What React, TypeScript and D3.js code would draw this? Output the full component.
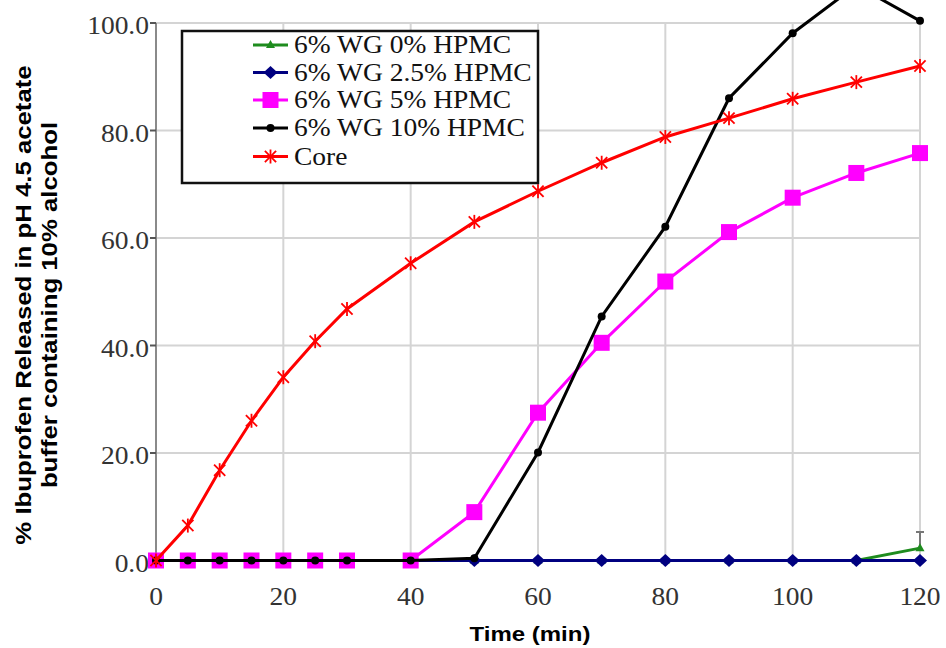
import { scaleLinear, line } from 'd3';

const width = 946;
const height = 648;

const times = [0, 5, 10, 15, 20, 25, 30, 40, 50, 60, 70, 80, 90, 100, 110, 120];
const wg0 = [0, 0, 0, 0, 0, 0, 0, 0, 0, 0, 0, 0, 0, 0, 0, 2.3];
const wg0Err = [0, 0, 0, 0, 0, 0, 0, 0, 0, 0, 0, 0, 0, 0, 0, 3.0];
const wg25 = [0, 0, 0, 0, 0, 0, 0, 0, 0, 0, 0, 0, 0, 0, 0, 0];
const wg5 = [0, 0, 0, 0, 0, 0, 0, 0, 9.0, 27.5, 40.5, 51.9, 61.1, 67.5, 72.1, 75.8];
const wg10 = [0, 0, 0, 0, 0, 0, 0, 0, 0.4, 20.1, 45.4, 62.1, 86.0, 98.1, 107, 100.4];
const core = [0, 6.5, 16.8, 26, 34.1, 40.8, 46.8, 55.3, 63, 68.7, 74, 78.8, 82.3, 85.9, 89, 92];

const seriesNames = ['6% WG 0% HPMC', '6% WG 2.5% HPMC', '6% WG 5% HPMC', '6% WG 10% HPMC', 'Core'];
const seriesColors = ['#1e8c1e', '#000080', '#ff00ff', '#000000', '#ff0000'];
const seriesValues = [wg0, wg25, wg5, wg10, core];
const markerKinds = ['triangle', 'diamond', 'square', 'dot', 'star'];

const xTicks = [0, 20, 40, 60, 80, 100, 120];
const yTicks = [0, 20, 40, 60, 80, 100];

const x = scaleLinear().domain([0, 120]).range([156, 920]);
const y = scaleLinear().domain([0, 100]).range([560.5, 23]);

// the original picture is a bit wider than tall, so text gets stretched sideways
const stretch = 1.1;

const Marker = ({ kind, cx, cy, color }: { kind: string; cx: number; cy: number; color: string }) => {
  if (kind === 'triangle') {
    return <path d={`M${cx},${cy - 5} L${cx + 4.5},${cy + 3} L${cx - 4.5},${cy + 3} Z`} fill={color} />;
  }
  if (kind === 'diamond') {
    return <path d={`M${cx},${cy - 6.5} L${cx + 7},${cy} L${cx},${cy + 6.5} L${cx - 7},${cy} Z`} fill={color} />;
  }
  if (kind === 'square') {
    return <rect x={cx - 8} y={cy - 8} width={16} height={16} fill={color} />;
  }
  if (kind === 'dot') {
    return <circle cx={cx} cy={cy} r={4} fill={color} />;
  }
  const r = 7;
  return (
    <g stroke={color} strokeWidth={1.8}>
      <line x1={cx} y1={cy - r} x2={cx} y2={cy + r} />
      <line x1={cx - r * 0.8} y1={cy - r * 0.8} x2={cx + r * 0.8} y2={cy + r * 0.8} />
      <line x1={cx - r * 0.8} y1={cy + r * 0.8} x2={cx + r * 0.8} y2={cy - r * 0.8} />
    </g>
  );
};

const lineGen = line<number>()
  .x((_, i) => x(times[i]))
  .y((d) => y(d));

const legendRows = [45, 72.5, 100, 128, 156.5];

const serif = "'Liberation Serif', 'Times New Roman', serif";
const sans = "'Liberation Sans', Arial, sans-serif";

const App = () => {
  return (
    <svg
      width={width}
      height={height}
      style={{ position: 'absolute', left: 0, top: 0, background: '#fff' }}
    >
      {/* grid */}
      {yTicks.filter((t) => t > 0).map((t) => (
        <line key={'gy' + t} x1={x(0)} x2={x(120)} y1={y(t)} y2={y(t)} stroke="#d4d4d4" strokeWidth={2} />
      ))}
      {xTicks.filter((t) => t > 0).map((t) => (
        <line key={'gx' + t} x1={x(t)} x2={x(t)} y1={y(0)} y2={y(100)} stroke="#d4d4d4" strokeWidth={2} />
      ))}
      <line x1={x(0)} x2={x(0)} y1={y(0)} y2={y(100)} stroke="#8a8a8a" strokeWidth={2} />
      {yTicks.map((t) => (
        <g key={'yt' + t}>
          <line x1={x(0) - 6} x2={x(0)} y1={y(t)} y2={y(t)} stroke="#555" strokeWidth={2} />
          <text
            transform={`translate(149,${y(t) + 3}) scale(${stretch},1)`}
            textAnchor="end"
            dominantBaseline="central"
            fontFamily={serif}
            fontSize={25}
            fill="#333"
          >
            {t.toFixed(1)}
          </text>
        </g>
      ))}
      {xTicks.map((t) => (
        <text
          key={'xt' + t}
          transform={`translate(${x(t)},605) scale(${stretch},1)`}
          textAnchor="middle"
          fontFamily={serif}
          fontSize={25}
          fill="#333"
        >
          {t}
        </text>
      ))}

      {/* error bar */}
      {wg0.map((v, i) =>
        wg0Err[i] > 0 ? (
          <g key={'eb' + i} stroke="#777" strokeWidth={2}>
            <line x1={x(times[i])} x2={x(times[i])} y1={y(v)} y2={y(v + wg0Err[i])} />
            <line x1={x(times[i]) - 4} x2={x(times[i]) + 4} y1={y(v + wg0Err[i])} y2={y(v + wg0Err[i])} />
          </g>
        ) : null
      )}

      {/* series */}
      {seriesValues.map((vals, si) => (
        <g key={'s' + si}>
          <path d={lineGen(vals) || ''} fill="none" stroke={seriesColors[si]} strokeWidth={3} />
          {vals.map((v, i) => (
            <Marker key={i} kind={markerKinds[si]} cx={x(times[i])} cy={y(v)} color={seriesColors[si]} />
          ))}
        </g>
      ))}

      {/* legend */}
      <rect x={182} y={31} width={356} height={152} fill="#fff" stroke="#111" strokeWidth={2.5} />
      {seriesNames.map((name, i) => (
        <g key={'lg' + i}>
          <line x1={253} x2={288} y1={legendRows[i]} y2={legendRows[i]} stroke={seriesColors[i]} strokeWidth={3} />
          <Marker kind={markerKinds[i]} cx={270.5} cy={legendRows[i]} color={seriesColors[i]} />
          <text
            transform={`translate(294,${legendRows[i]}) scale(${stretch},1)`}
            dominantBaseline="central"
            fontFamily={serif}
            fontSize={25}
            fill="#111"
          >
            {name}
          </text>
        </g>
      ))}

      {/* axis titles */}
      <text
        transform="translate(530,641) scale(1.2,1)"
        textAnchor="middle"
        fontFamily={sans}
        fontWeight="bold"
        fontSize={20}
        fill="#000"
      >
        Time (min)
      </text>
      <text
        transform="translate(31,305) rotate(-90) scale(1.12,1)"
        textAnchor="middle"
        fontFamily={sans}
        fontWeight="bold"
        fontSize={23}
        fill="#000"
      >
        <tspan x={0} y={0}>% Ibuprofen Released in pH 4.5 acetate</tspan>
        <tspan x={0} y={26}>buffer containing 10% alcohol</tspan>
      </text>
    </svg>
  );
};

export default App;
